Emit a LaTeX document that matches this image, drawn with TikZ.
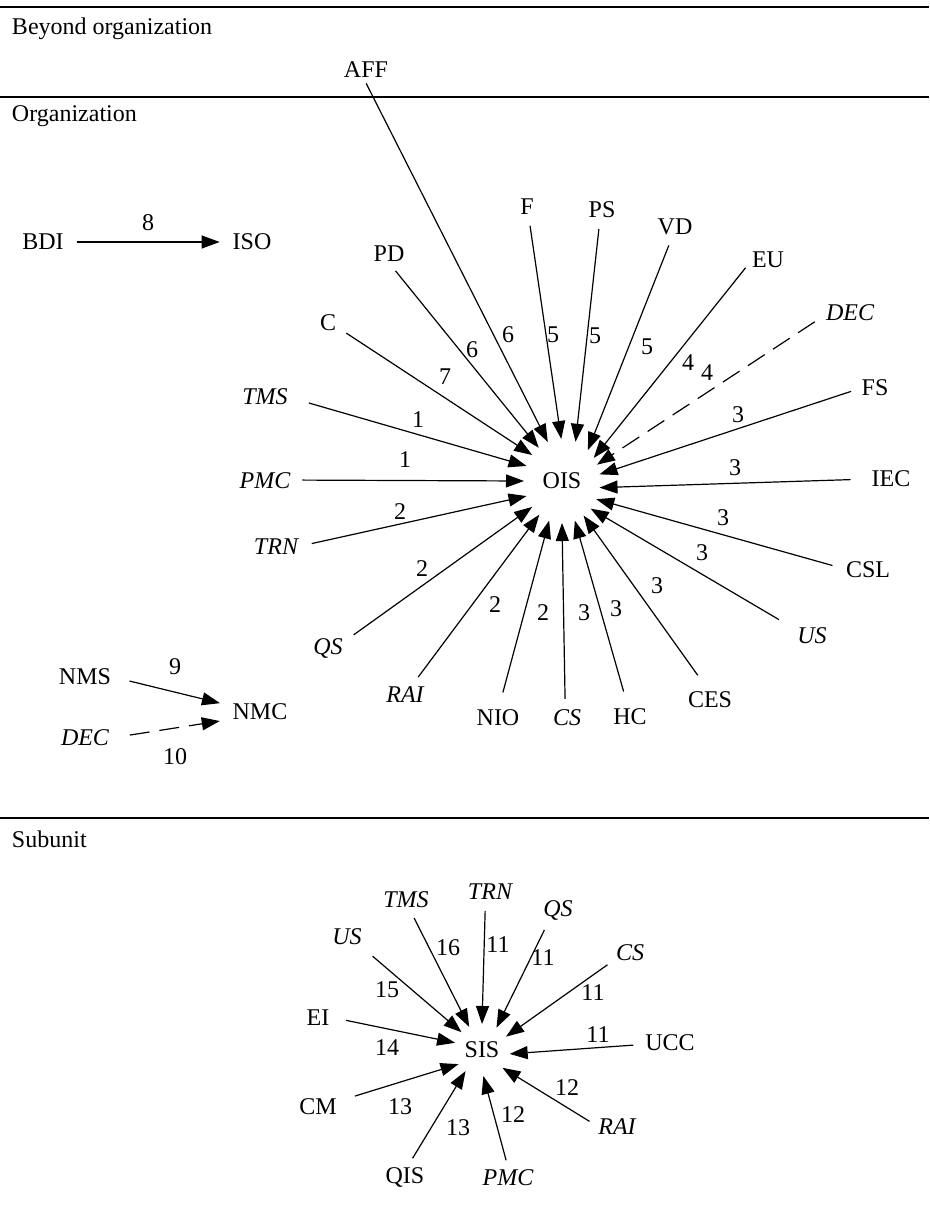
\documentclass[tikz,border=0pt]{standalone}
\usepackage{fontspec}
\setmainfont{Liberation Serif}
\usetikzlibrary{arrows.meta,shapes.geometric}
\begin{document}
\begin{tikzpicture}[x=1pt,y=-1pt,
  lbl/.style={font=\fontsize{24}{28}\selectfont, inner sep=2pt, outer sep=0pt},
  ilbl/.style={lbl, font=\fontsize{24}{28}\selectfont\itshape},
  num/.style={font=\fontsize{24}{28}\selectfont, inner sep=0pt},
  hub/.style={ellipse, font=\fontsize{24}{28}\selectfont, inner sep=0pt, outer sep=0pt},
  arr/.style={line width=1.2pt, -{Triangle[length=18pt,width=13pt]}},
  darr/.style={arr, dash pattern=on 20pt off 10pt},
  rule/.style={line width=1.6pt},
]
\useasboundingbox (0,0) rectangle (929,1209);

% level separators
\draw[rule] (0,7) -- (929,7);
\draw[rule] (0,97) -- (929,97);
\draw[rule] (0,818) -- (929,818);
\node[lbl, anchor=base west] (secBeyond) at (10,35) {Beyond organization};
\node[lbl, anchor=base west] (secOrg) at (10,122) {Organization};
\node[lbl, anchor=base west] (secSub) at (10,847) {Subunit};

% ---------- organization hub ----------
\node[hub, minimum width=76pt, minimum height=84pt] (OIS) at (562,481) {OIS};

\node[lbl]  (AFF) at (366,70)  {AFF};
\node[lbl]  (PD)  at (389,254) {PD};
\node[lbl]  (C)   at (328,323) {C};
\node[ilbl] (TMS) at (265,397) {TMS};
\node[ilbl] (PMC) at (265,481) {PMC};
\node[ilbl] (TRN) at (276,547) {TRN};
\node[ilbl] (QS)  at (328,648) {QS};
\node[ilbl] (RAI) at (405,695) {RAI};
\node[lbl]  (NIO) at (498,718) {NIO};
\node[ilbl] (CS)  at (567,718) {CS};
\node[lbl]  (HC)  at (630,717) {HC};
\node[lbl]  (CES) at (710,700) {CES};
\node[ilbl] (US)  at (812,636) {US};
\node[lbl]  (CSL) at (868,570) {CSL};
\node[lbl]  (IEC) at (891,479) {IEC};
\node[lbl]  (FS)  at (875,388) {FS};
\node[ilbl] (DEC) at (850,313) {DEC};
\node[lbl]  (EU)  at (768,260) {EU};
\node[lbl]  (VD)  at (675,227) {VD};
\node[lbl]  (PS)  at (602,210) {PS};
\node[lbl]  (F)   at (527,207) {F};

\draw[arr, shorten <=20pt] (TMS.-1)  -- (OIS.157);
\draw[arr, shorten <=10pt] (PMC.2)   -- (OIS.180);
\draw[arr, shorten <=12pt] (TRN.2)   -- (OIS.-157);
\draw[arr, shorten <=11pt] (QS.22)   -- (OIS.-139);
\draw[arr, shorten <=10pt] (RAI.54)  -- (OIS.-124);
\draw[arr, shorten <=16pt] (NIO.86)  -- (OIS.-108);
\draw[arr, shorten <=9pt]  (CS.100)  -- (OIS.-90);
\draw[arr, shorten <=16pt] (HC.101)  -- (OIS.-72);
\draw[arr, shorten <=18pt] (CES.100) -- (OIS.-58);
\draw[arr, shorten <=19pt] (US.158)  -- (OIS.-44);
\draw[arr, shorten <=12pt] (CSL.177) -- (OIS.-28);
\draw[arr, shorten <=19pt] (IEC.180) -- (OIS.-10);
\draw[arr, shorten <=9pt]  (FS.182)  -- (OIS.10);
\draw[darr, shorten <=11pt] (DEC.186) -- (OIS.25);
\draw[arr, shorten <=7pt]  (EU.187)  -- (OIS.36);
\draw[arr, shorten <=9pt]  (VD.254)  -- (OIS.50);
\draw[arr, shorten <=9pt]  (PS.258)  -- (OIS.71);
\draw[arr, shorten <=9pt]  (F.280)   -- (OIS.91);
\draw[arr, shorten <=4pt]  (AFF.261) -- (OIS.110);
\draw[arr, shorten <=9pt]  (PD.275)  -- (OIS.125);
\draw[arr, shorten <=10pt] (C.335)   -- (OIS.139);

\node[num] (wTMS) at (418,420) {1};
\node[num] (wPMC) at (405,460) {1};
\node[num] (wTRN) at (400,512) {2};
\node[num] (wQS)  at (422,569) {2};
\node[num] (wRAI) at (495,605) {2};
\node[num] (wNIO) at (543,613) {2};
\node[num] (wCS)  at (584,613) {3};
\node[num] (wHC)  at (616,609) {3};
\node[num] (wCES) at (657,586) {3};
\node[num] (wUS)  at (702,553) {3};
\node[num] (wCSL) at (723,518) {3};
\node[num] (wIEC) at (735,468) {3};
\node[num] (wFS)  at (738,415) {3};
\node[num] (wDEC) at (707,373) {4};
\node[num] (wEU)  at (688,363) {4};
\node[num] (wVD)  at (647,347) {5};
\node[num] (wPS)  at (595,336) {5};
\node[num] (wF)   at (553,335) {5};
\node[num] (wAFF) at (508,335) {6};
\node[num] (wPD)  at (472,350) {6};
\node[num] (wC)   at (445,377) {7};

% ---------- side relations ----------
\node[lbl] (BDI) at (43,242) {BDI};
\node[lbl] (ISO) at (252,242) {ISO};
\draw[arr, shorten <=11pt, shorten >=11pt] (BDI.east) -- (ISO.west);
\node[num] (w8) at (148,223) {8};

\node[lbl]  (NMS)  at (85,677) {NMS};
\node[lbl]  (NMC)  at (260,712) {NMC};
\node[ilbl] (nDEC) at (85,738) {DEC};
\draw[arr, shorten <=17pt, shorten >=11pt] (NMS.east) -- (NMC.168);
\draw[darr, shorten <=19pt, shorten >=11pt] (nDEC.east) -- (NMC.194);
\node[num] (w9)  at (175,667) {9};
\node[num] (w10) at (175,757) {10};

% ---------- subunit hub ----------
\node[hub, minimum width=56pt, minimum height=52pt] (SIS) at (482,1050) {SIS};

\node[ilbl] (sTRN) at (490,892)  {TRN};
\node[ilbl] (sTMS) at (406,900)  {TMS};
\node[ilbl] (sQS)  at (558,910)  {QS};
\node[ilbl] (sUS)  at (347,937)  {US};
\node[ilbl] (sCS)  at (630,953)  {CS};
\node[lbl]  (EI)   at (318,1018) {EI};
\node[lbl]  (UCC)  at (670,1043) {UCC};
\node[lbl]  (CM)   at (318,1107) {CM};
\node[ilbl] (sRAI) at (617,1127) {RAI};
\node[lbl]  (QIS)  at (405,1177) {QIS};
\node[ilbl] (sPMC) at (508,1178) {PMC};

\draw[arr, shorten <=9pt]  (sTRN.-115) -- (SIS.90);
\draw[arr, shorten <=9pt]  (sTMS.-68)  -- (SIS.119);
\draw[arr, shorten <=9pt]  (sQS.-129)  -- (SIS.57);
\draw[arr, shorten <=14pt] (sUS.-34)   -- (SIS.139);
\draw[arr, shorten <=8pt]  (sCS.204)   -- (SIS.29);
\draw[arr, shorten <=15pt] (EI.3)      -- (SIS.165);
\draw[arr, shorten <=10pt] (UCC.183)   -- (SIS.-8);
\draw[arr, shorten <=17pt] (CM.16)     -- (SIS.-149);
\draw[arr, shorten <=8pt]  (sRAI.176)  -- (SIS.-41);
\draw[arr, shorten <=8pt]  (QIS.74)    -- (SIS.-128);
\draw[arr, shorten <=8pt]  (sPMC.89)   -- (SIS.-87);

\node[num] (vTRN) at (498,945)  {11};
\node[num] (vTMS) at (448,948)  {16};
\node[num] (vQS)  at (543,958)  {11};
\node[num] (vUS)  at (387,990)  {15};
\node[num] (vCS)  at (593,993)  {11};
\node[num] (vEI)  at (387,1048) {14};
\node[num] (vUCC) at (598,1035) {11};
\node[num] (vCM)  at (400,1107) {13};
\node[num] (vRAI) at (567,1088) {12};
\node[num] (vQIS) at (458,1128) {13};
\node[num] (vPMC) at (513,1115) {12};
\end{tikzpicture}
\end{document}
